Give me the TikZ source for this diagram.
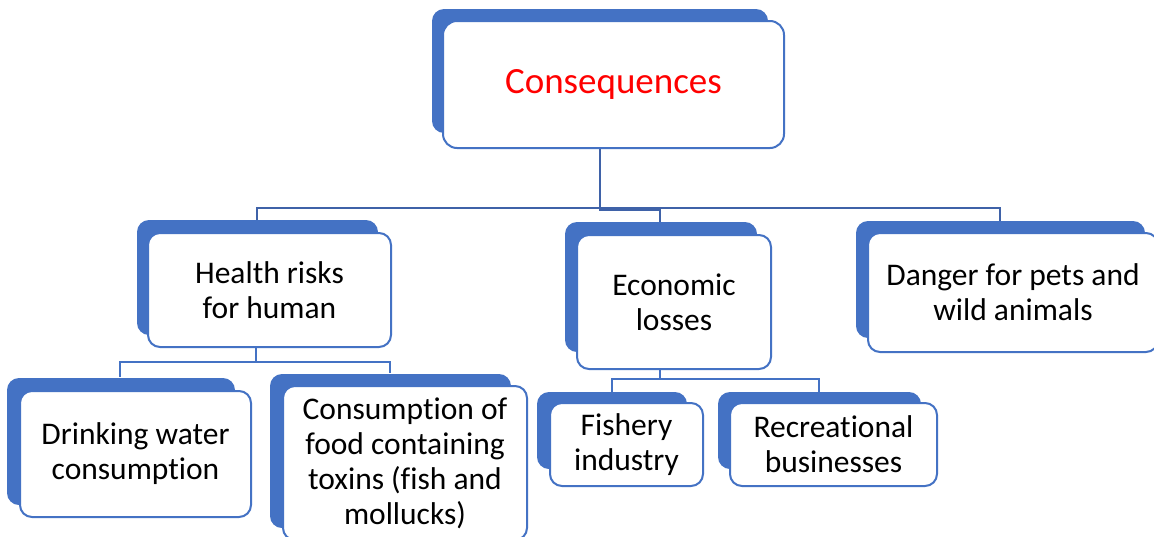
\documentclass[tikz,border=0pt]{standalone}
\usepackage{fontspec}
\setmainfont{Carlito}[RawFeature={-liga}]
\definecolor{sa}{HTML}{4472C4}
\definecolor{con}{HTML}{3F62A8}
\begin{document}
\begin{tikzpicture}[x=1pt,y=-1pt,
  shadowbox/.style={fill=sa, rounded corners=12pt},
  box/.style={draw=sa, line width=2pt, fill=white, rounded corners=12pt,
    align=center, inner sep=0pt, font=\fontsize{31.5}{35}\selectfont},
  conn/.style={draw=con, line width=2.2pt},
  conn2/.style={draw=sa, line width=2.2pt},
]
\clip (0,0) rectangle (1154,536);
\fill[white] (0,0) rectangle (1154,536);

% junction coordinates
\coordinate (t0) at (600,148);
\coordinate (t1) at (600,210);
\coordinate (t2) at (660,210);
\coordinate (bl) at (257,208);
\coordinate (br) at (1000,208);
\coordinate (h0) at (256,362);
\coordinate (hl) at (120,362);
\coordinate (hr) at (390,362);
\coordinate (e0) at (660,379);
\coordinate (el) at (612,379);
\coordinate (er) at (819,379);

% shadows
\fill[shadowbox] (432,9) rectangle (768,133);
\fill[shadowbox] (137,220) rectangle (378,335);
\fill[shadowbox] (565,222) rectangle (757,352);
\fill[shadowbox] (856,221) rectangle (1145,338);
\fill[shadowbox] (7,378) rectangle (235,505);
\fill[shadowbox] (270,374) rectangle (511,528);
\fill[shadowbox] (537,392) rectangle (687,469);
\fill[shadowbox] (718,392) rectangle (921,469);

% nodes
\node[box, minimum width=341pt, minimum height=127pt, rounded corners=14pt,
  font=\fontsize{37}{42}\selectfont, text=red] (top) at (613.5,84.5) {Consequences};
\node[box, minimum width=243pt, minimum height=114pt] (health) at (269.5,290) {Health risks\\for human};
\node[box, minimum width=194pt, minimum height=134pt] (econ) at (674,302) {Economic\\losses};
\node[box, minimum width=290pt, minimum height=119pt] (danger) at (1013,292.5) {Danger for pets and\\wild animals};
\node[box, minimum width=231pt, minimum height=126pt] (drink) at (135.5,454) {Drinking water\\consumption};
\node[box, minimum width=244pt, minimum height=154pt] (consum) at (405,463) {Consumption of\\food containing\\toxins (fish and\\mollucks)};
\node[box, minimum width=153pt, minimum height=83pt] (fish) at (626.5,444.5) {Fishery\\industry};
\node[box, minimum width=207pt, minimum height=83pt] (recr) at (833.5,444.5) {Recreational\\businesses};

% connectors
\draw[conn] (top.south -| t0) -- (t1) -- (t2) -- (t2 |- 0,222);
\draw[conn] (bl |- 0,220) -- (bl) -- (br) -- (br |- 0,221);
\draw[conn2] (health.south -| h0) -- (h0);
\draw[conn2] (hl |- 0,377) -- (hl) -- (hr) -- (hr |- 0,373);
\draw[conn2] (econ.south -| e0) -- (e0);
\draw[conn2] (el |- 0,392) -- (el) -- (er) -- (er |- 0,392);
\end{tikzpicture}
\end{document}
